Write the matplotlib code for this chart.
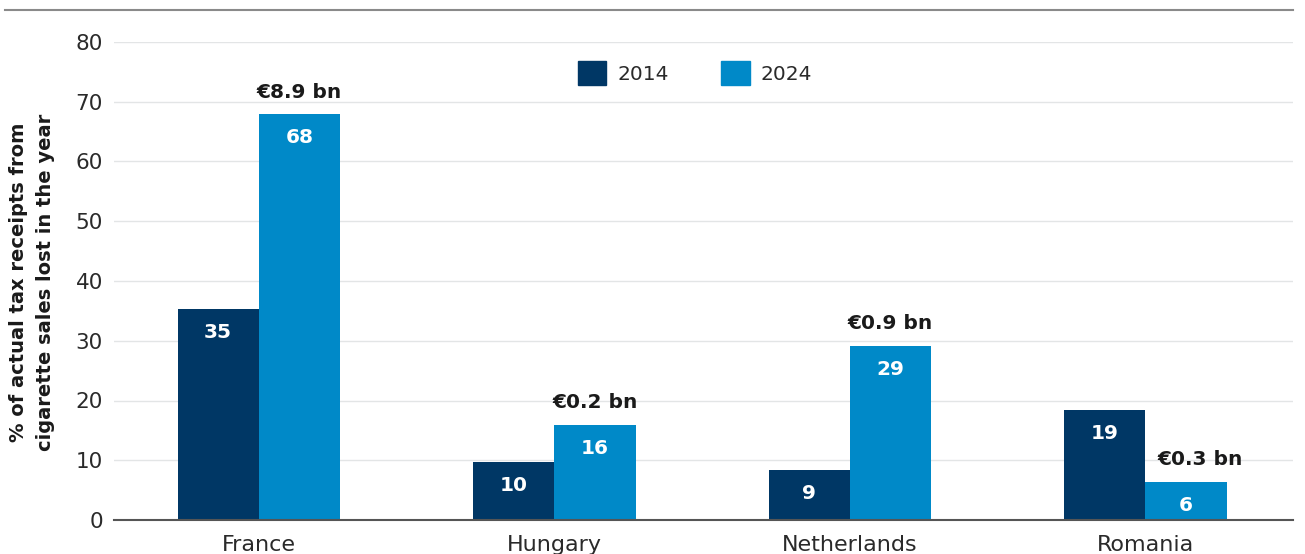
import numpy as np
import matplotlib
matplotlib.use("Agg")
import matplotlib.pyplot as plt
from matplotlib.patches import Patch

# dados
paises = ["France", "Hungary", "Netherlands", "Romania"]
anos = ["2014", "2024"]
valores_2014 = [35.3, 9.7, 8.4, 18.4]
valores_2024 = [67.9, 15.9, 29.1, 6.4]
rotulos_2014 = ["35", "10", "9", "19"]
rotulos_2024 = ["68", "16", "29", "6"]
perdas_2024 = ["€8.9 bn", "€0.2 bn", "€0.9 bn", "€0.3 bn"]
yticks = [0, 10, 20, 30, 40, 50, 60, 70, 80]

cor_escura = "#003765"
cor_clara = "#0089c8"

plt.rcParams["font.family"] = ["DejaVu Sans"]

fig = plt.figure(figsize=(13.05, 5.54), dpi=100)
ax = fig.add_axes([114 / 1305, 1 - 520 / 554, (1293 - 114) / 1305, (520 - 42) / 554])

x = np.arange(len(paises))
largura = 0.275

b1 = ax.bar(x - largura / 2, valores_2014, largura, color=cor_escura, zorder=3)
b2 = ax.bar(x + largura / 2, valores_2024, largura, color=cor_clara, zorder=3)

# numeros dentro das barras
for barras, rotulos in [(b1, rotulos_2014), (b2, rotulos_2024)]:
    for barra, r in zip(barras, rotulos):
        ax.annotate(r, (barra.get_x() + barra.get_width() / 2, barra.get_height()),
                    xytext=(0, -17), textcoords="offset points",
                    ha="center", va="center", color="white",
                    fontsize=14.5, fontweight="bold", zorder=4)

# valores em euros acima das barras de 2024
for i, (barra, r) in enumerate(zip(b2, perdas_2024)):
    # quando a barra de 2014 e mais alta o rotulo fica um pouco a direita
    dx = 10 if valores_2014[i] > valores_2024[i] else 0
    ax.annotate(r, (barra.get_x() + barra.get_width() / 2, barra.get_height()),
                xytext=(dx, 16), textcoords="offset points",
                ha="center", va="center", color="#1a1a1a",
                fontsize=14.5, fontweight="bold", zorder=4)

ax.set_xlim(-0.49, 3.5)
ax.set_ylim(0, 80)
ax.set_yticks(yticks)
ax.set_xticks(x)
ax.set_xticklabels(paises)
ax.tick_params(axis="y", length=0, labelsize=15.5, colors="#2a2a2a", pad=8)
ax.tick_params(axis="x", length=0, labelsize=16, colors="#2a2a2a", pad=11)
ax.grid(axis="y", color="#e3e5e6", linewidth=1, zorder=0)

for lado in ["top", "right", "left"]:
    ax.spines[lado].set_visible(False)
ax.spines["bottom"].set_color("#555555")
ax.spines["bottom"].set_linewidth(1.5)
ax.spines["bottom"].set_zorder(5)

fig.text(32 / 1305, 1 - 282 / 554,
         "% of actual tax receipts from\ncigarette sales lost in the year",
         rotation=90, ha="center", va="center", fontsize=14,
         fontweight="bold", color="#1a1a1a", linespacing=1.55)

# linha cinza no topo
fig.add_artist(plt.Line2D([5 / 1305, 1293 / 1305], [1 - 10 / 554, 1 - 10 / 554],
                          color="#8a8a8a", linewidth=1.5, transform=fig.transFigure))

handles = [Patch(color=cor_escura, label=anos[0]), Patch(color=cor_clara, label=anos[1])]
ax.legend(handles=handles, loc="center", bbox_to_anchor=(0.493, 1 - (73 - 42) / 478),
          ncol=2, frameon=False, fontsize=14.5, handlelength=1.4, handleheight=1.4,
          handletextpad=0.55, columnspacing=2.6, labelcolor="#2a2a2a")

fig.savefig("out.png", dpi=100)
